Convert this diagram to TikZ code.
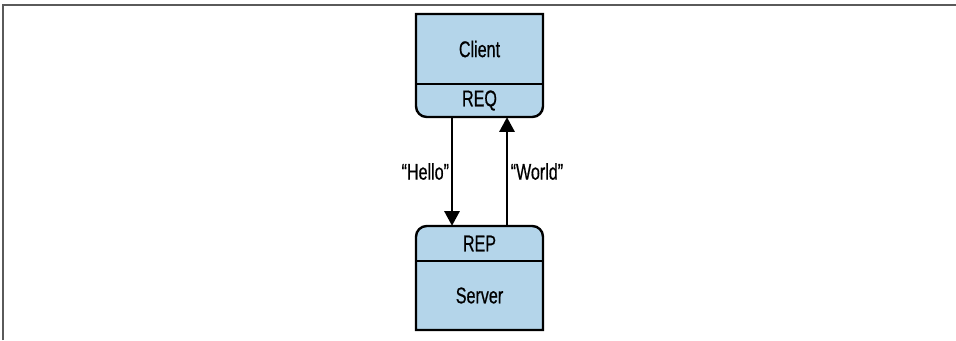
\documentclass[tikz,border=0pt]{standalone}
\usepackage{fontspec}
\setmainfont[FakeStretch=0.71, FakeBold=0.6]{Liberation Sans}
\usetikzlibrary{arrows.meta,calc}
\definecolor{boxblue}{RGB}{180,213,234}
\definecolor{framegray}{RGB}{90,90,90}
\tikzset{
  boxline/.style={draw=black, line width=1.8pt, fill=boxblue},
  part/.style={rectangle, inner sep=0pt, minimum width=127*0.75pt, font=\fontsize{17}{19}\selectfont},
  arr/.style={line width=1.5pt, -{Triangle[length=11pt, width=11.5pt]}},
  lbl/.style={font=\fontsize{17}{19}\selectfont, inner sep=0pt},
  frame/.style={draw=framegray, line width=1.6pt}
}
\begin{document}
\begin{tikzpicture}[x=0.75pt, y=-0.75pt]
\useasboundingbox (0,0) rectangle (956,340);
% frame lines
\coordinate (fa) at (3,340);
\coordinate (fb) at (3,5);
\coordinate (fc) at (956,5);
\draw[frame] (fa) -- (fb) -- (fc);
% client box
\filldraw[boxline] (479.5,14) -- (416,14) -- (416,60) [rounded corners=8] -- (416,117) -- (543,117) -- (543,60) [sharp corners] -- (543,14) -- cycle;
\draw[line width=1.8pt] (416,84) -- (543,84);
% server box
\filldraw[boxline] (479.5,330) -- (416,330) -- (416,280) [rounded corners=8] -- (416,226) -- (543,226) -- (543,280) [sharp corners] -- (543,330) -- cycle;
\draw[line width=1.8pt] (416,261) -- (543,261);
% texts
\node[part, minimum height=70*0.75pt] (client) at (479.5,49) {Client};
\node[part, minimum height=33*0.75pt] (req) at (479.5,100.5) {REQ};
\node[part, minimum height=35*0.75pt] (rep) at (479.5,243.5) {REP};
\node[part, minimum height=69*0.75pt] (server) at (479.5,295.5) {Server};
% arrows
\draw[arr] ($(req.south)+(-27.5,0)$) -- ($(rep.north)+(-27.5,0)$)
  node[lbl, midway, anchor=east, xshift=-1.5pt] {“Hello”};
\draw[arr] ($(rep.north)+(27.5,0)$) -- ($(req.south)+(27.5,0)$)
  node[lbl, midway, anchor=west, xshift=2pt] {“World”};
\end{tikzpicture}
\end{document}
